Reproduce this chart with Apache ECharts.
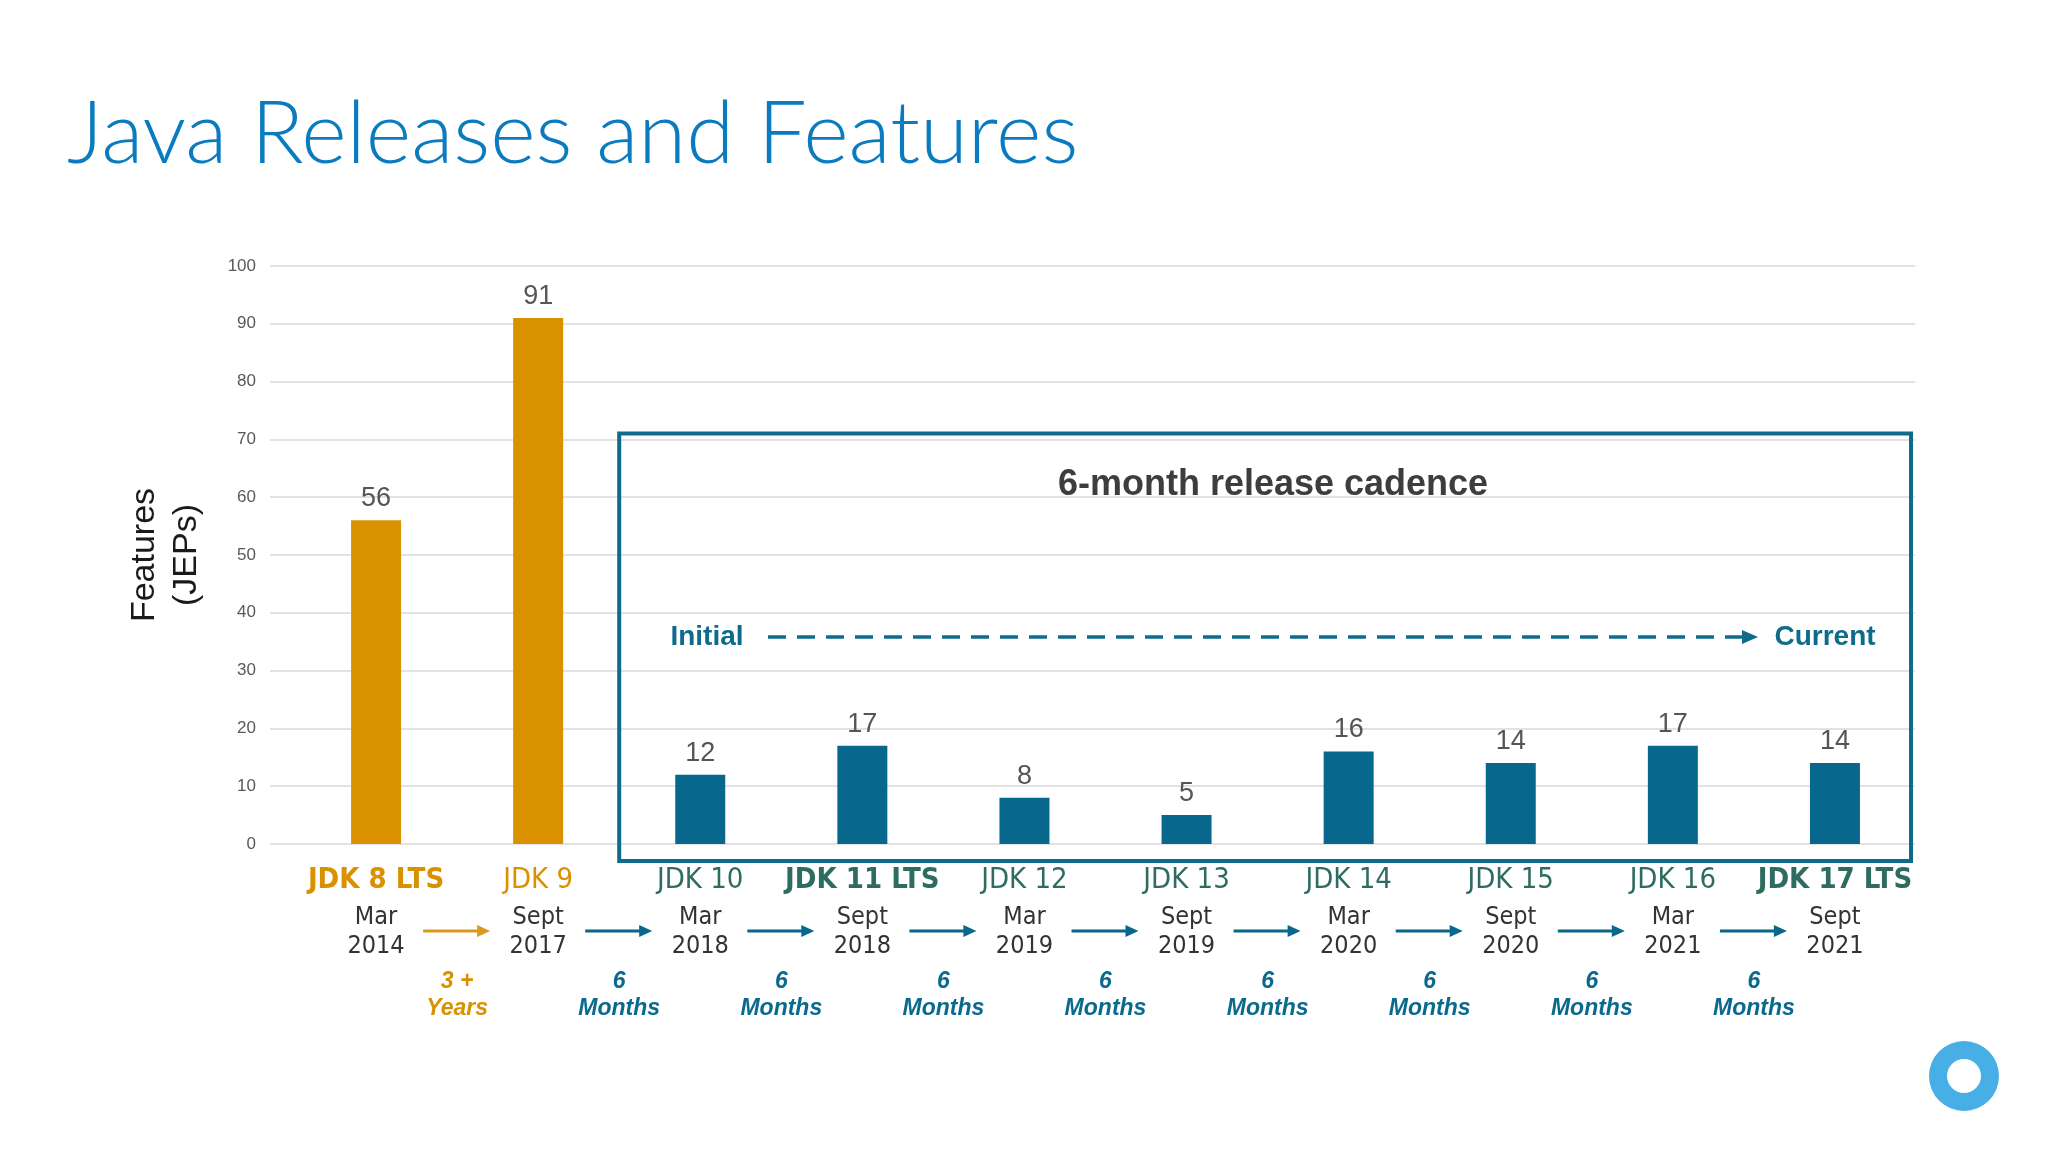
<!DOCTYPE html>
<html><head><meta charset="utf-8">
<script src="https://cdn.jsdelivr.net/npm/echarts@6/dist/echarts.min.js"></script>
<style>html,body{margin:0;padding:0;background:#fff}#c{width:2048px;height:1152px}</style>
</head><body><div id="c"></div>
<script>
// ---- data ----
const releases = ['JDK 8 LTS','JDK 9','JDK 10','JDK 11 LTS','JDK 12','JDK 13','JDK 14','JDK 15','JDK 16','JDK 17 LTS'];
const releaseMonths = ['Mar','Sept','Mar','Sept','Mar','Sept','Mar','Sept','Mar','Sept'];
const releaseYears = ['2014','2017','2018','2018','2019','2019','2020','2020','2021','2021'];
const features = [56,91,12,17,8,5,16,14,17,14];
const gapNumbers = ['3 +','6','6','6','6','6','6','6','6'];
const gapUnits = ['Years','Months','Months','Months','Months','Months','Months','Months','Months'];
const legacyCount = 2; // releases before the 6-month cadence
const ltsFlags = [true,false,false,true,false,false,false,false,false,true];

// ---- style ----
const ORANGE = '#DA9100', BLUE = '#08678C', TEAL = '#2E6C62', BOXC = '#0F6B8C', MONTHC = '#0A6A8E';
const NARROW = "'Liberation Sans Narrow','DejaVu Sans Condensed','Liberation Sans',sans-serif";
const SANS = "'Liberation Sans',Arial,sans-serif";

const chart = echarts.init(document.getElementById('c'), null, {renderer:'canvas'});

const gridTop = 266, gridBottom = 308;
const option = {
  backgroundColor: '#ffffff',
  animation: false,
  title: {
    text: 'Java Releases and Features', left: 62, top: 86,
    textStyle: {fontFamily: 'Lato', fontWeight: 300, fontSize: 87, color: '#0B7BC0'}
  },
  grid: [
    {left: 270, right: 133, top: gridTop, bottom: gridBottom},
    {left: 295, right: 132, top: gridTop, bottom: gridBottom}
  ],
  xAxis: [
    {
      type: 'category', gridIndex: 1, position: 'bottom', data: releases, boundaryGap: true,
      axisLine: {show: false}, axisTick: {show: false},
      axisLabel: {
        interval: 0, margin: 13,
        formatter: (v) => {
          const idx = releases.indexOf(v);
          const key = (idx < legacyCount ? 'o' : 't') + (ltsFlags[idx] ? 'b' : 'n');
          return '{' + key + '|' + v + '}\n{d|' + releaseMonths[idx] + '}\n{d|' + releaseYears[idx] + '}';
        },
        rich: {
          on: {fontFamily: NARROW, fontSize: 29, color: ORANGE, lineHeight: 46},
          ob: {fontFamily: NARROW, fontSize: 29, fontWeight: 'bold', color: ORANGE, lineHeight: 46},
          tn: {fontFamily: NARROW, fontSize: 29, color: TEAL, lineHeight: 46},
          tb: {fontFamily: NARROW, fontSize: 29, fontWeight: 'bold', color: TEAL, lineHeight: 46},
          d: {fontFamily: NARROW, fontSize: 25, color: '#333333', lineHeight: 29}
        }
      }
    },
    {
      type: 'category', gridIndex: 1, position: 'bottom', boundaryGap: false,
      data: ['g0'].concat(gapNumbers.map((n, i) => 'g' + (i + 1))).concat(['g10']),
      axisLine: {show: false}, axisTick: {show: false}, splitLine: {show: false},
      axisLabel: {
        interval: 0, margin: 124,
        formatter: (v) => {
          const k = parseInt(v.slice(1), 10) - 1;
          if (k < 0 || k >= gapNumbers.length) return '';
          const s = k < legacyCount - 1 ? 'y' : 'm';
          return '{' + s + '|' + gapNumbers[k] + '}\n{' + s + '|' + gapUnits[k] + '}';
        },
        rich: {
          y: {fontFamily: SANS, fontStyle: 'italic', fontWeight: 'bold', fontSize: 23, color: ORANGE, lineHeight: 27},
          m: {fontFamily: SANS, fontStyle: 'italic', fontWeight: 'bold', fontSize: 23, color: MONTHC, lineHeight: 27}
        }
      }
    },
    {type: 'value', gridIndex: 0, min: 0, max: 1, show: false}
  ],
  yAxis: [
    {
      type: 'value', gridIndex: 0, min: 0, max: 100, interval: 10,
      axisLine: {show: false}, axisTick: {show: false},
      axisLabel: {fontFamily: SANS, fontSize: 17, color: '#595959', margin: 14},
      splitLine: {lineStyle: {color: '#D9D9D9', width: 1.5}},
      name: 'Features\n(JEPs)', nameLocation: 'middle', nameRotate: 90, nameGap: 62,
      nameTextStyle: {fontFamily: SANS, fontSize: 34, color: '#1a1a1a', lineHeight: 42}
    },
    {type: 'value', gridIndex: 1, min: 0, max: 100, show: false, splitLine: {show: false}}
  ],
  series: [{
    type: 'bar', xAxisIndex: 0, yAxisIndex: 1, barWidth: 50,
    data: features.map((v, i) => ({value: v, itemStyle: {color: i < legacyCount ? ORANGE : BLUE}})),
    label: {show: true, position: 'top', distance: 8, fontFamily: SANS, fontSize: 27, color: '#555555'},
    z: 3
  }]
};
chart.setOption(option);

// ---- annotations positioned from the axes ----
const bx = (i) => chart.convertToPixel({xAxisIndex: 1}, i);   // band boundaries
const vy = (v) => chart.convertToPixel({yAxisIndex: 1}, v);
const graphics = [];

const boxLeft = bx(legacyCount), boxRight = bx(releases.length) - 5;
const boxTop = vy(71), boxBottom = vy(0) + 17;
graphics.push({type: 'rect', z: 10, shape: {x: boxLeft, y: boxTop, width: boxRight - boxLeft, height: boxBottom - boxTop},
  style: {fill: 'none', stroke: BOXC, lineWidth: 4}});

graphics.push({type: 'text', z: 11, x: 1273, y: 485, style: {text: '6-month release cadence', align: 'center', verticalAlign: 'middle',
  font: 'bold 36px ' + SANS, fill: '#3D3D3D'}});
const midY = 637;
graphics.push({type: 'text', z: 11, x: 707, y: midY, style: {text: 'Initial', align: 'center', verticalAlign: 'middle', font: 'bold 28px ' + SANS, fill: BOXC}});
graphics.push({type: 'text', z: 11, x: 1825, y: midY, style: {text: 'Current', align: 'center', verticalAlign: 'middle', font: 'bold 28px ' + SANS, fill: BOXC}});
graphics.push({type: 'line', z: 11, shape: {x1: 768, y1: midY, x2: 1745, y2: midY}, style: {stroke: BOXC, lineWidth: 3.5, lineDash: [18, 11]}});
graphics.push({type: 'polygon', z: 11, shape: {points: [[1742, midY - 7], [1758, midY], [1742, midY + 7]]}, style: {fill: BOXC}});

// arrows between release dates
const arrowY = 931;
for (let k = 1; k < releases.length; k++) {
  const cx = bx(k);
  const col = k < legacyCount ? '#D99A1E' : BLUE;
  graphics.push({type: 'line', z: 11, shape: {x1: cx - 34, y1: arrowY, x2: cx + 24, y2: arrowY}, style: {stroke: col, lineWidth: 3}});
  graphics.push({type: 'polygon', z: 11, shape: {points: [[cx + 20, arrowY - 6], [cx + 33, arrowY], [cx + 20, arrowY + 6]]}, style: {fill: col}});
}

// corner logo ring
graphics.push({type: 'ring', z: 11, shape: {cx: 1964, cy: 1076, r: 35, r0: 17}, style: {fill: '#47AFE6'}});

chart.setOption({graphic: graphics});
</script></body></html>
